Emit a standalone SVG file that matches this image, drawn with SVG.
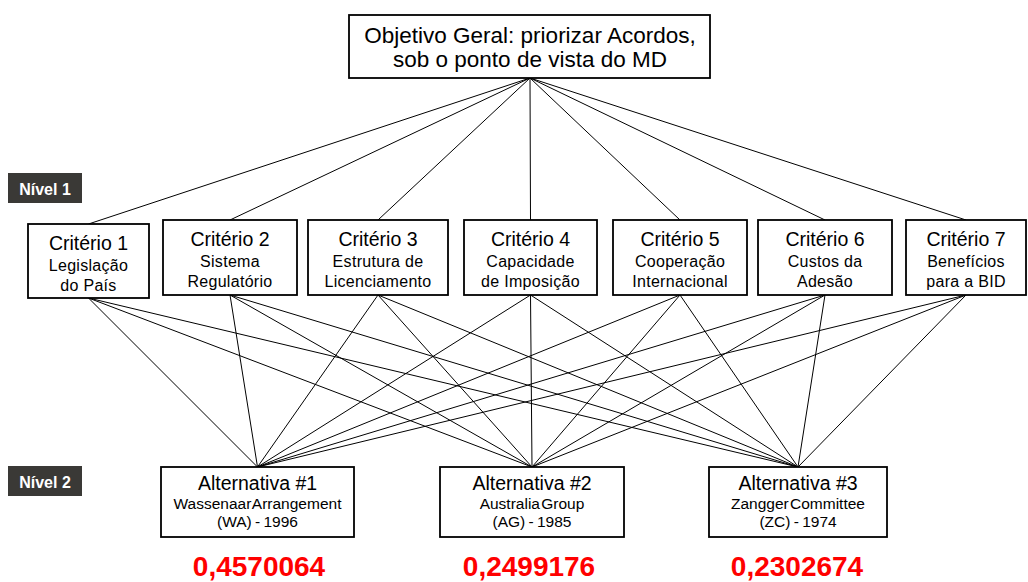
<svg xmlns="http://www.w3.org/2000/svg" width="1028" height="582" viewBox="0 0 1028 582">
<style>
.box{fill:#fff;stroke:#000;stroke-width:1.8}
.ln{stroke:#000;stroke-width:1;fill:none}
.t{font-family:"Liberation Sans",Arial,sans-serif;fill:#000;text-anchor:middle}
.top{font-size:22.5px}
.h{font-size:19.5px}
.s{font-size:16px;letter-spacing:0.3px}
.as{font-size:15.5px;word-spacing:-3px}
.ad{font-size:15.5px;word-spacing:-1px}
.lvl{fill:#3a3936}
.lt{font-family:"Liberation Sans",Arial,sans-serif;font-weight:bold;font-size:16px;fill:#fff;text-anchor:middle}
.num{font-family:"Liberation Sans",Arial,sans-serif;font-weight:bold;font-size:28px;fill:#ff0000;text-anchor:middle}
</style>
<rect width="1028" height="582" fill="#fff"/>
<g id="connectors">
<line class="ln" x1="530" y1="78" x2="88.5" y2="224"/>
<line class="ln" x1="530" y1="78" x2="230" y2="220"/>
<line class="ln" x1="530" y1="78" x2="378" y2="220"/>
<line class="ln" x1="530" y1="78" x2="530.5" y2="220"/>
<line class="ln" x1="530" y1="78" x2="680" y2="220"/>
<line class="ln" x1="530" y1="78" x2="825" y2="220"/>
<line class="ln" x1="530" y1="78" x2="966" y2="220"/>
<line class="ln" x1="88.5" y1="298" x2="257.5" y2="467"/>
<line class="ln" x1="88.5" y1="298" x2="532" y2="467"/>
<line class="ln" x1="88.5" y1="298" x2="798" y2="467"/>
<line class="ln" x1="230" y1="295" x2="257.5" y2="467"/>
<line class="ln" x1="230" y1="295" x2="532" y2="467"/>
<line class="ln" x1="230" y1="295" x2="798" y2="467"/>
<line class="ln" x1="378" y1="295" x2="257.5" y2="467"/>
<line class="ln" x1="378" y1="295" x2="532" y2="467"/>
<line class="ln" x1="378" y1="295" x2="798" y2="467"/>
<line class="ln" x1="530.5" y1="295" x2="257.5" y2="467"/>
<line class="ln" x1="530.5" y1="295" x2="532" y2="467"/>
<line class="ln" x1="530.5" y1="295" x2="798" y2="467"/>
<line class="ln" x1="680" y1="295" x2="257.5" y2="467"/>
<line class="ln" x1="680" y1="295" x2="532" y2="467"/>
<line class="ln" x1="680" y1="295" x2="798" y2="467"/>
<line class="ln" x1="825" y1="295" x2="257.5" y2="467"/>
<line class="ln" x1="825" y1="295" x2="532" y2="467"/>
<line class="ln" x1="825" y1="295" x2="798" y2="467"/>
<line class="ln" x1="966" y1="295" x2="257.5" y2="467"/>
<line class="ln" x1="966" y1="295" x2="532" y2="467"/>
<line class="ln" x1="966" y1="295" x2="798" y2="467"/>
</g>
<g id="goal">
<rect class="box" x="349" y="15" width="361" height="63"/>
<text class="t top" x="530" y="43">Objetivo Geral: priorizar Acordos,</text>
<text class="t top" x="530" y="67">sob o ponto de vista do MD</text>
</g>
<g id="nivel1">
<rect class="lvl" x="8" y="173" width="74" height="30"/>
<text class="lt" x="45" y="195">Nível 1</text>
</g>
<g id="nivel2">
<rect class="lvl" x="8" y="466" width="74" height="30"/>
<text class="lt" x="45" y="488">Nível 2</text>
</g>
<g id="c1">
<rect class="box" x="28" y="224" width="121" height="74"/>
<text class="t h" x="88.5" y="250">Critério 1</text>
<text class="t s" x="88.5" y="271">Legislação</text>
<text class="t s" x="88.5" y="291">do País</text>
</g>
<g id="c2">
<rect class="box" x="163" y="220" width="134" height="75"/>
<text class="t h" x="230" y="246">Critério 2</text>
<text class="t s" x="230" y="267">Sistema</text>
<text class="t s" x="230" y="287">Regulatório</text>
</g>
<g id="c3">
<rect class="box" x="308" y="220" width="140" height="75"/>
<text class="t h" x="378" y="246">Critério 3</text>
<text class="t s" x="378" y="267">Estrutura de</text>
<text class="t s" x="378" y="287">Licenciamento</text>
</g>
<g id="c4">
<rect class="box" x="464" y="220" width="133" height="75"/>
<text class="t h" x="530.5" y="246">Critério 4</text>
<text class="t s" x="530.5" y="267">Capacidade</text>
<text class="t s" x="530.5" y="287">de Imposição</text>
</g>
<g id="c5">
<rect class="box" x="613" y="220" width="134" height="75"/>
<text class="t h" x="680" y="246">Critério 5</text>
<text class="t s" x="680" y="267">Cooperação</text>
<text class="t s" x="680" y="287">Internacional</text>
</g>
<g id="c6">
<rect class="box" x="758" y="220" width="134" height="75"/>
<text class="t h" x="825" y="246">Critério 6</text>
<text class="t s" x="825" y="267">Custos da</text>
<text class="t s" x="825" y="287">Adesão</text>
</g>
<g id="c7">
<rect class="box" x="906" y="220" width="120" height="75"/>
<text class="t h" x="966" y="246">Critério 7</text>
<text class="t s" x="966" y="267">Benefícios</text>
<text class="t s" x="966" y="287">para a BID</text>
</g>
<g id="a1">
<rect class="box" x="161" y="467" width="193" height="70"/>
<text class="t h" x="257.5" y="490">Alternativa #1</text>
<text class="t as" x="257.5" y="509">Wassenaar Arrangement</text>
<text class="t ad" x="257.5" y="527">(WA) - 1996</text>
</g>
<g id="a2">
<rect class="box" x="440" y="467" width="184" height="70"/>
<text class="t h" x="532" y="490">Alternativa #2</text>
<text class="t as" x="532" y="509">Australia Group</text>
<text class="t ad" x="532" y="527">(AG) - 1985</text>
</g>
<g id="a3">
<rect class="box" x="709" y="467" width="178" height="70"/>
<text class="t h" x="798" y="490">Alternativa #3</text>
<text class="t as" x="798" y="509">Zangger Committee</text>
<text class="t ad" x="798" y="527">(ZC) - 1974</text>
</g>
<g id="scores">
<text class="num" x="259" y="576">0,4570064</text>
<text class="num" x="529" y="576">0,2499176</text>
<text class="num" x="797" y="576">0,2302674</text>
</g>
</svg>
